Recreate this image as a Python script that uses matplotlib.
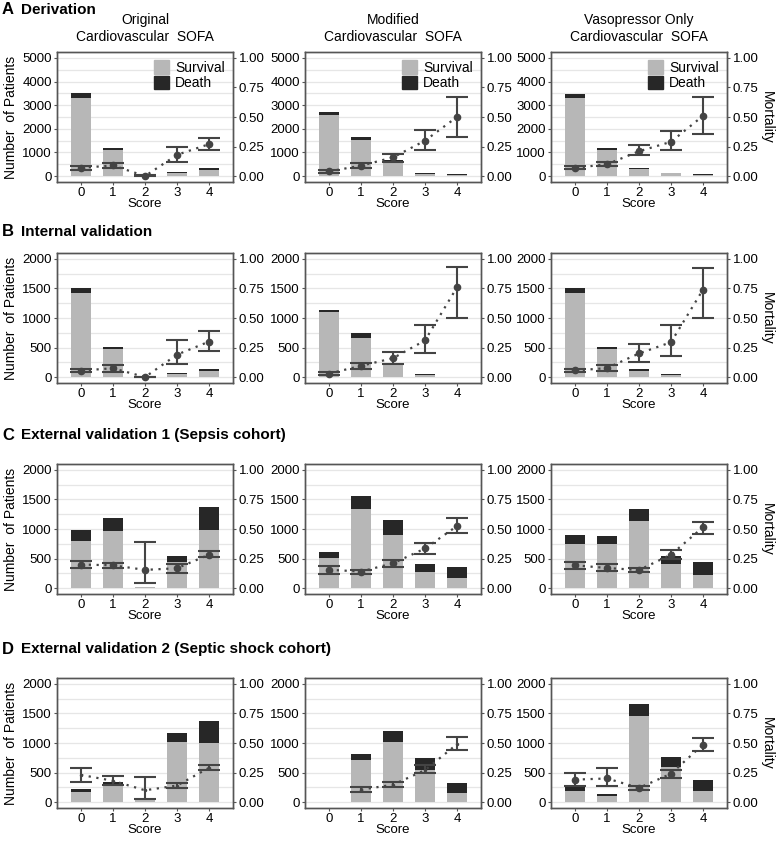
import numpy as np
import matplotlib
matplotlib.use("Agg")
import matplotlib.pyplot as plt
from matplotlib.patches import Patch

plt.rcParams['font.family'] = ['Liberation Sans', 'DejaVu Sans']

scores = [0, 1, 2, 3, 4]

# A: derivation
a1_surv = [3320, 1100, 3, 140, 260]
a1_death = [180, 95, 0, 30, 95]
a1_mort = [0.07, 0.09, 0.0, 0.18, 0.27]
a1_lo = [0.055, 0.07, 0.0, 0.12, 0.225]
a1_hi = [0.085, 0.11, 0.01, 0.25, 0.32]

a2_surv = [2590, 1520, 600, 100, 35]
a2_death = [110, 140, 90, 40, 35]
a2_mort = [0.04, 0.088, 0.158, 0.30, 0.50]
a2_lo = [0.03, 0.07, 0.12, 0.22, 0.33]
a2_hi = [0.055, 0.107, 0.185, 0.39, 0.67]

a3_surv = [3320, 1110, 280, 110, 35]
a3_death = [170, 90, 70, 40, 35]
a3_mort = [0.07, 0.10, 0.21, 0.29, 0.51]
a3_lo = [0.06, 0.085, 0.18, 0.22, 0.36]
a3_hi = [0.085, 0.12, 0.26, 0.385, 0.67]

# B: internal validation
b1_surv = [1420, 475, 0, 55, 100]
b1_death = [80, 40, 0, 15, 45]
b1_mort = [0.055, 0.075, 0.0, 0.19, 0.30]
b1_lo = [0.04, 0.04, 0.0, 0.11, 0.225]
b1_hi = [0.07, 0.105, 0.005, 0.31, 0.39]

b2_surv = [1100, 670, 205, 30, 3]
b2_death = [35, 80, 38, 15, 7]
b2_mort = [0.03, 0.095, 0.16, 0.31, 0.76]
b2_lo = [0.02, 0.07, 0.11, 0.20, 0.50]
b2_hi = [0.045, 0.12, 0.21, 0.44, 0.935]

b3_surv = [1420, 475, 108, 32, 3]
b3_death = [80, 40, 22, 13, 7]
b3_mort = [0.056, 0.076, 0.20, 0.295, 0.74]
b3_lo = [0.04, 0.05, 0.13, 0.18, 0.50]
b3_hi = [0.07, 0.10, 0.28, 0.44, 0.92]

# C: external validation 1
c1_surv = [800, 970, 17, 450, 990]
c1_death = [175, 220, 3, 85, 375]
c1_mort = [0.199, 0.193, 0.154, 0.168, 0.283]
c1_lo = [0.17, 0.17, 0.04, 0.13, 0.26]
c1_hi = [0.23, 0.215, 0.386, 0.20, 0.31]

c2_surv = [515, 1345, 900, 270, 170]
c2_death = [90, 220, 245, 135, 180]
c2_mort = [0.155, 0.14, 0.21, 0.335, 0.525]
c2_lo = [0.12, 0.12, 0.18, 0.285, 0.47]
c2_hi = [0.19, 0.155, 0.24, 0.385, 0.59]

c3_surv = [740, 740, 1140, 400, 215]
c3_death = [165, 145, 200, 140, 220]
c3_mort = [0.193, 0.17, 0.153, 0.283, 0.515]
c3_lo = [0.165, 0.145, 0.135, 0.25, 0.46]
c3_hi = [0.22, 0.20, 0.17, 0.32, 0.56]

# D: external validation 2
d1_surv = [170, 295, 60, 1015, 1000]
d1_death = [50, 48, 7, 160, 375]
d1_mort = [0.23, 0.18, 0.10, 0.14, 0.29]
d1_lo = [0.17, 0.145, 0.03, 0.12, 0.27]
d1_hi = [0.285, 0.225, 0.21, 0.16, 0.317]

d2_surv = [0, 715, 1020, 540, 150]
d2_death = [0, 105, 175, 200, 165]
d2_mort = [np.nan, 0.105, 0.147, 0.27, 0.49]
d2_lo = [np.nan, 0.083, 0.13, 0.25, 0.44]
d2_hi = [np.nan, 0.13, 0.166, 0.31, 0.55]

d3_surv = [195, 110, 1460, 595, 195]
d3_death = [65, 25, 200, 170, 185]
d3_mort = [0.19, 0.20, 0.12, 0.24, 0.487]
d3_lo = [0.14, 0.135, 0.105, 0.205, 0.43]
d3_hi = [0.25, 0.29, 0.14, 0.27, 0.54]

col_titles = ["Original\nCardiovascular  SOFA",
              "Modified\nCardiovascular  SOFA",
              "Vasopressor Only\nCardiovascular  SOFA"]
row_titles = [("A", "Derivation"), ("B", "Internal validation"),
              ("C", "External validation 1 (Sepsis cohort)"),
              ("D", "External validation 2 (Septic shock cohort)")]

SURV_C = "#b7b7b7"
DEATH_C = "#272727"
ERR_C = "#444444"
GRID_C = "#e6e6e6"
SPINE_C = "#555555"
TICK_FS = 9.5
LAB_FS = 10

W, H = 777, 841
fig = plt.figure(figsize=(W / 100, H / 100), dpi=100)

col_left = [57, 305, 551]
ax_w = 176
row_top = [52, 253, 464, 678]
ax_h = 130
title_y = [10, 232, 435, 649]


def draw_panel(ax, surv, death, mort, lo, hi, ymax, step, pt_size=4.5):
    surv = np.array(surv, float)
    death = np.array(death, float)
    mort = np.array(mort, float)
    lo = np.array(lo, float)
    hi = np.array(hi, float)

    ax.bar(scores, surv, width=0.6, color=SURV_C, zorder=2)
    ax.bar(scores, death, bottom=surv, width=0.6, color=DEATH_C, zorder=2)
    ax.set_xlim(-0.75, 4.75)
    ax.set_ylim(-0.05 * ymax, 1.05 * ymax)
    ax.set_yticks(np.arange(0, ymax + 1, step))
    ax.set_yticks(np.arange(0, ymax + 1, step / 2), minor=True)
    ax.set_xticks(scores)
    ax.grid(axis='y', which='both', color=GRID_C, lw=0.9, zorder=0)
    ax.set_axisbelow(True)
    ax.tick_params(axis='both', which='major', labelsize=TICK_FS, length=2.5,
                   width=0.8, color=SPINE_C, pad=1.2)
    ax.tick_params(axis='y', which='minor', length=0)
    for s in ax.spines.values():
        s.set_color(SPINE_C)
        s.set_linewidth(1.0)

    ax2 = ax.twinx()
    ax2.set_ylim(-0.05, 1.05)
    ax2.set_yticks([0, 0.25, 0.5, 0.75, 1.0])
    ax2.set_yticklabels(["0.00", "0.25", "0.50", "0.75", "1.00"])
    ax2.tick_params(axis='y', labelsize=TICK_FS, length=2.5, width=0.8,
                    color=SPINE_C, pad=1.5)
    for s in ax2.spines.values():
        s.set_color(SPINE_C)
        s.set_linewidth(1.0)
    ax2.plot(scores, mort, ls=(0, (1, 2.5)), color=ERR_C, lw=1.6, zorder=3)
    ax2.errorbar(scores, mort, yerr=[mort - lo, hi - mort], fmt='o',
                 color=ERR_C, ms=pt_size, elinewidth=1.5, capsize=8,
                 capthick=1.5, zorder=4)
    ax.set_xlabel("Score", fontsize=TICK_FS, labelpad=-0.5)
    return ax2


panels = [
    [(a1_surv, a1_death, a1_mort, a1_lo, a1_hi),
     (a2_surv, a2_death, a2_mort, a2_lo, a2_hi),
     (a3_surv, a3_death, a3_mort, a3_lo, a3_hi)],
    [(b1_surv, b1_death, b1_mort, b1_lo, b1_hi),
     (b2_surv, b2_death, b2_mort, b2_lo, b2_hi),
     (b3_surv, b3_death, b3_mort, b3_lo, b3_hi)],
    [(c1_surv, c1_death, c1_mort, c1_lo, c1_hi),
     (c2_surv, c2_death, c2_mort, c2_lo, c2_hi),
     (c3_surv, c3_death, c3_mort, c3_lo, c3_hi)],
    [(d1_surv, d1_death, d1_mort, d1_lo, d1_hi),
     (d2_surv, d2_death, d2_mort, d2_lo, d2_hi),
     (d3_surv, d3_death, d3_mort, d3_lo, d3_hi)],
]

for r in range(4):
    ymax, step = (5000, 1000) if r == 0 else (2000, 500)
    for c in range(3):
        rect = [col_left[c] / W, 1 - (row_top[r] + ax_h) / H, ax_w / W, ax_h / H]
        ax = fig.add_axes(rect)
        pt = 1.5 if (r == 3 and c < 2) else 4.5
        ax2 = draw_panel(ax, *panels[r][c], ymax, step, pt_size=pt)
        if c == 0:
            ax.set_ylabel("Number  of Patients", fontsize=LAB_FS, labelpad=3)
        if c == 2:
            ax2.set_ylabel("Mortality", fontsize=LAB_FS, rotation=-90,
                           va="bottom", labelpad=1)
        if r == 0:
            ax.set_title(col_titles[c], fontsize=LAB_FS, pad=8, linespacing=1.3)
            ax.legend(handles=[Patch(color=SURV_C, label="Survival"),
                               Patch(color=DEATH_C, label="Death")],
                      loc="upper right", frameon=False, fontsize=LAB_FS,
                      handlelength=1.1, handleheight=1.1, handletextpad=0.4,
                      labelspacing=0.1, borderaxespad=0.2)

    letter, text = row_titles[r]
    fig.text(2 / W, 1 - title_y[r] / H, letter, fontsize=12, fontweight='bold',
             va='center', ha='left')
    fig.text(21 / W, 1 - title_y[r] / H, text, fontsize=11, fontweight='bold',
             va='center', ha='left')

fig.savefig("out.png", dpi=100)
